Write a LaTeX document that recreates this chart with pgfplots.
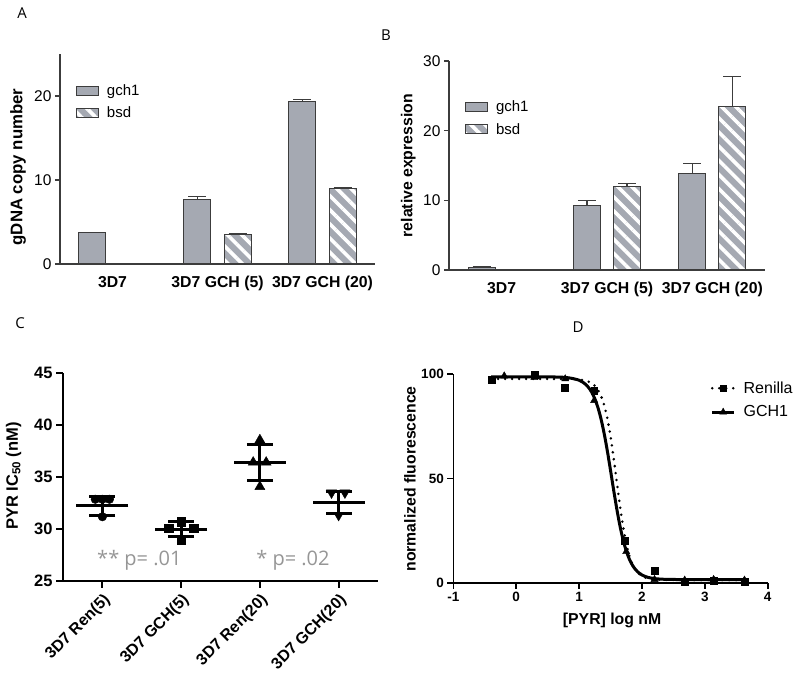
\documentclass[border=0pt]{standalone}
\usepackage{pgfplots}
\pgfplotsset{compat=1.18}
\usepackage{fontspec}
\setmainfont{Liberation Sans}
\newfontfamily\osans{Open Sans}
\usetikzlibrary{patterns.meta}
\definecolor{barfill}{RGB}{165,169,178}
\definecolor{edge}{RGB}{60,60,60}
\definecolor{pgray}{RGB}{150,150,150}
\newcommand{\fs}[1]{\fontsize{#1}{#1}\selectfont}

\pgfplotsset{
  barax/.style={
    scale only axis, anchor=south west,
    axis x line=bottom, axis y line=left,
    axis line style={-, edge, line width=1.2pt},
    tick align=outside,
    major tick length=5pt,
    ytick style={edge, line width=1.2pt},
    xtick style={draw=none},
    xmin=-0.5, xmax=2.5,
    xtick={0,1,2},
    xticklabels={3D7, 3D7 GCH (5), 3D7 GCH (20)},
    xticklabel style={font=\bfseries\fs{15.8}, yshift=-4pt},
    yticklabel style={font=\fs{15.5}},
    /pgf/number format/assume math mode=true,
    legend style={draw=none, fill=none, font=\fs{15}, row sep=6pt, anchor=north west, inner sep=0pt,
      /tikz/every odd column/.append style={column sep=6pt}},
    legend cell align=left,
  },
  legbar/.style={legend image code/.code={\draw[##1] (0pt,-4.5pt) rectangle (22pt,4.5pt);}},
  gchbar/.style={ybar, bar width=27pt, bar shift=0pt, fill=barfill, draw=edge, line width=1pt, legbar,
    error bars/.cd, y dir=plus, y explicit, error bar style={edge, line width=1.2pt},
    error mark options={rotate=90, mark size=9pt, edge, line width=1.2pt}},
  bsdbar/.style={ybar, bar width=27pt, bar shift=0pt, fill=barfill, draw=edge, line width=1pt,
    postaction={pattern={Lines[angle=-45,distance=10pt,line width=3.6pt]}, pattern color=white, draw=edge}, legbar,
    error bars/.cd, y dir=plus, y explicit, error bar style={edge, line width=1.2pt},
    error mark options={rotate=90, mark size=9pt, edge, line width=1.2pt}},
}

\begin{document}
\begin{tikzpicture}[x=1pt,y=1pt]
\useasboundingbox (0,0) rectangle (800,672);

% panel letters
\node[font=\osans\fs{15}] at (22,659) {A};
\node[font=\osans\fs{15}] at (386,637) {B};
\node[font=\osans\fs{15}] at (20,349) {C};
\node[font=\osans\fs{15}] at (578,345) {D};

% ---------- A ----------
\begin{axis}[barax, at={(60pt,408pt)}, width=315pt, height=210pt,
  ymin=0, ymax=25, ytick={0,10,20},
  ylabel={gDNA copy number},
  ylabel style={font=\bfseries\fs{16.8}, at={(axis description cs:-0.133,0.462)}, anchor=center},
  legend style={at={(axis description cs:0.05,0.865)}}]
\addplot[gchbar] coordinates {(-0.1905,3.7) +- (0,0.05) (0.8095,7.7) +- (0,0.3) (1.8095,19.3) +- (0,0.3)};
\addplot[bsdbar] coordinates {(1.1905,3.5) +- (0,0.1) (2.1905,9.0) +- (0,0.1)};
\legend{gch1, bsd}
\end{axis}

% ---------- B ----------
\begin{axis}[barax, at={(449pt,402pt)}, width=316pt, height=209pt,
  ymin=0, ymax=30, ytick={0,10,20,30},
  ylabel={relative expression},
  ylabel style={font=\bfseries\fs{15.8}, at={(axis description cs:-0.129,0.499)}, anchor=center},
  legend style={at={(axis description cs:0.05,0.82)}}]
\addplot[gchbar] coordinates {(-0.1905,0.4) +- (0,0.15) (0.8095,9.27) +- (0,0.75) (1.8095,13.8) +- (0,1.5)};
\addplot[bsdbar] coordinates {(1.1905,12.0) +- (0,0.45) (2.1905,23.45) +- (0,4.35)};
\legend{gch1, bsd}
\end{axis}

% ---------- C ----------
\begin{axis}[scale only axis, anchor=south west, at={(63pt,91.3pt)}, width=315pt, height=208pt,
  xmin=0.5, xmax=4.5, ymin=25, ymax=45, clip=false,
  axis x line=bottom, axis y line=left, axis line style={-, black, line width=2.2pt},
  tick align=outside, major tick length=7pt, tick style={black, line width=2.2pt},
  xtick={1,2,3,4}, xticklabels={3D7 Ren(5),3D7 GCH(5),3D7 Ren(20),3D7 GCH(20)},
  xticklabel style={rotate=45, anchor=north east, font=\bfseries\fs{16}},
  ytick={25,30,35,40,45}, yticklabel style={font=\bfseries\fs{16.5}},
  /pgf/number format/assume math mode=true,
  ylabel={PYR IC\textsubscript{50} (nM)},
  ylabel style={font=\bfseries\fs{16.5}, at={(axis description cs:-0.157,0.503)}, anchor=center}]
\addplot[only marks, black, mark=-, mark size=26pt, line width=3pt,
  error bars/.cd, y dir=both, y explicit, error bar style={black, line width=3pt},
  error mark options={rotate=90, mark size=13pt, black, line width=3pt}]
  coordinates {(1,32.2) +- (0,0.9) (2,29.95) +- (0,0.72) (3,36.35) +- (0,1.75) (4,32.55) +- (0,1.05)};
\addplot[only marks, black, mark=*, mark size=4.3pt]
  coordinates {(0.91,32.83) (1,32.83) (1.09,32.83) (1,31.15)};
\addplot[only marks, black, mark=square*, mark size=4.3pt]
  coordinates {(1.84,30.04) (2,30.68) (2.16,30.04) (2,28.9)};
\addplot[only marks, black, mark=triangle*, mark size=5.8pt]
  coordinates {(2.915,36.38) (3,38.53) (3.08,36.38) (3,34.04)};
\addplot[only marks, black, mark=triangle*, mark size=5.8pt, mark options={rotate=180}]
  coordinates {(3.91,33.46) (4.08,33.46) (4,31.3)};
\node[text=pgray, font=\osans\fs{20}] at (axis cs:1.47,27.0) {** p= .01};
\node[text=pgray, font=\osans\fs{20}] at (axis cs:3.42,27.0) {* p= .02};
\end{axis}

% ---------- D ----------
\begin{axis}[scale only axis, anchor=south west, at={(453.3pt,89.3pt)}, width=314.4pt, height=208.4pt,
  xmin=-1, xmax=4, ymin=0, ymax=100, clip=false,
  axis x line=bottom, axis y line=left, axis line style={-, black, line width=1.6pt},
  tick align=outside, major tick length=6pt, tick style={black, line width=1.6pt},
  xtick={-1,0,1,2,3,4}, ytick={0,50,100},
  ticklabel style={font=\bfseries\fs{13.5}},
  /pgf/number format/assume math mode=true,
  xlabel={[PYR] log nM}, ylabel={normalized fluorescence},
  xlabel style={font=\bfseries\fs{15.8}, at={(axis description cs:0.505,-0.179)}, anchor=center},
  ylabel style={font=\bfseries\fs{15.8}, at={(axis description cs:-0.138,0.498)}, anchor=center},
  legend style={draw=none, fill=none, font=\fs{16}, at={(axis description cs:0.818,0.975)}, anchor=north west, inner sep=0pt, row sep=7pt,
    /tikz/every odd column/.append style={column sep=6pt}},
  legend cell align=left,
  legend image code/.code={\draw[mark repeat=2,mark phase=2,#1] plot coordinates {(0pt,0pt) (11pt,0pt) (22pt,0pt)};}]
\addlegendimage{black, line width=2.8pt, dash pattern=on 0pt off 7pt, line cap=round, mark=square*, mark size=3pt, mark options={solid, line width=0.4pt}}
\addlegendentry{Renilla}
\addlegendimage{black, line width=3pt, mark=triangle*, mark size=4pt, mark options={solid, line width=0.4pt}}
\addlegendentry{GCH1}
\addplot[forget plot, smooth, black, line width=3pt] coordinates {
(-0.4,98.8) (0.0,98.8) (0.5,98.77) (0.8,98.45) (1.0,97.17) (1.1,95.3) (1.15,93.71) (1.2,91.45)
(1.25,88.3) (1.3,84.05) (1.35,78.46) (1.4,71.45) (1.45,63.16) (1.5,53.95) (1.55,44.46) (1.6,35.39)
(1.65,27.33) (1.7,20.6) (1.75,15.3) (1.8,11.28) (1.85,8.33) (1.9,6.23) (1.95,4.75) (2.0,3.72)
(2.05,3.01) (2.1,2.53) (2.2,1.97) (2.3,1.72) (2.4,1.6) (2.6,1.52) (3.0,1.5) (3.63,1.5)};
\addplot[forget plot, smooth, black, line width=2.8pt, dash pattern=on 0pt off 7pt, line cap=round] coordinates {
(-0.4,97.8) (0.0,97.8) (0.5,97.8) (0.8,97.76) (1.0,97.49) (1.1,97.0) (1.15,96.51) (1.2,95.73)
(1.25,94.48) (1.3,92.54) (1.35,89.55) (1.4,85.09) (1.45,78.75) (1.5,70.28) (1.55,59.89) (1.6,48.39)
(1.65,37.01) (1.7,26.96) (1.75,18.92) (1.8,12.98) (1.85,8.85) (1.9,6.10) (1.95,4.32) (2.0,3.18)
(2.05,2.47) (2.1,2.03) (2.2,1.58) (2.3,1.41) (2.4,1.34) (2.6,1.3) (3.0,1.3) (3.63,1.3)};
\addplot[forget plot, only marks, black, mark=triangle*, mark size=4.2pt]
  coordinates {(-0.19,99.2) (0.29,98.4) (0.78,97.8) (1.24,87.4) (1.75,14.9) (2.2,1.5) (2.68,1.2) (3.14,1.5) (3.63,1.2)};
\addplot[forget plot, only marks, black, mark=square*, mark size=3.3pt]
  coordinates {(-0.39,97.3) (0.29,99.8) (0.77,93.6) (1.24,92.2) (1.73,20.2) (2.2,5.8) (2.68,0.5) (3.14,1.0) (3.63,0.5)};
\end{axis}
\end{tikzpicture}
\end{document}
